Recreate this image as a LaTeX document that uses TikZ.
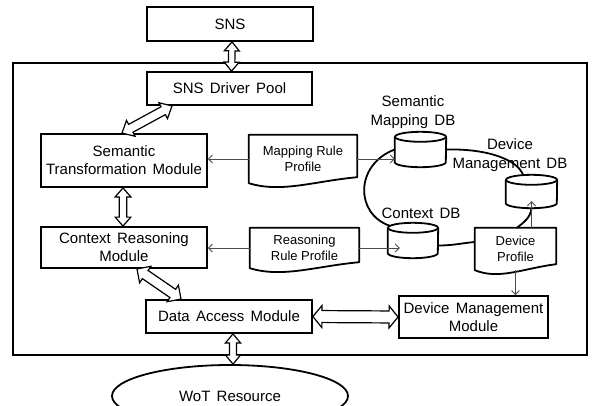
\documentclass[tikz,border=0pt]{standalone}
\usepackage{fontspec}
\setmainfont{Liberation Sans}
\usetikzlibrary{calc,arrows.meta,shapes.geometric}
% #1 shaft half width, #2 head half width, #3 head length, #4 and #5 end points
\newcommand{\fatarrow}[5]{%
  \coordinate (fa1) at ($#4!#3!#5$);
  \coordinate (fa2) at ($#5!#3!#4$);
  \filldraw[fat] #4 -- ($(fa1)!#2!90:#5$) -- ($(fa1)!#1!90:#5$)
    -- ($(fa2)!#1!-90:#4$) -- ($(fa2)!#2!-90:#4$) -- #5
    -- ($(fa2)!#2!90:#4$) -- ($(fa2)!#1!90:#4$)
    -- ($(fa1)!#1!-90:#5$) -- ($(fa1)!#2!-90:#5$) -- cycle;}
\newcommand{\dbcyl}[5]{%
  \node[inner sep=0pt, minimum width=#4pt, minimum height=#5pt] (#1) at (#2,#3) {};
  \draw[dbline] ([yshift=-5pt]#1.north west) -- ([yshift=5pt]#1.south west)
    arc[start angle=180, end angle=360, x radius=#4pt/2, y radius=5pt]
    -- ([yshift=-5pt]#1.north east);
  \draw[dbline] ([yshift=-5pt]#1.north) ellipse [x radius=#4pt/2, y radius=5pt];}
\newcommand{\docshape}[1]{%
  \draw[docline] (#1.north west) -- (#1.south west)
    .. controls ($(#1.south west)!0.3!(#1.south east)+(0,10)$) and ($(#1.south west)!0.6!(#1.south east)+(0,-2)$) ..
    ($(#1.south east)+(0,-6)$) -- (#1.north east) -- cycle;}
\newcommand{\bigtxt}{\fontsize{15}{18}\selectfont\spaceskip=0.42em plus 0.1em minus 0.05em\relax}
\newcommand{\lbltxt}{\fontsize{15}{19}\selectfont\spaceskip=0.42em plus 0.1em minus 0.05em\relax}
\begin{document}
\begin{tikzpicture}[x=1pt,y=-1pt,
  box/.style={draw, line width=1.8pt, inner sep=0pt, align=center, font=\bigtxt},
  docnode/.style={inner sep=0pt, align=center, font=\fontsize{13}{16}\selectfont},
  docline/.style={line width=1.8pt, line join=round},
  dbline/.style={line width=1.8pt},
  link/.style={line width=1.8pt},
  thinarr/.style={draw=black!70, line width=0.8pt, -{Straight Barb[length=4pt,width=8pt]}},
  fat/.style={draw, fill=white, line width=1.2pt, line join=miter},
  lbl/.style={inner sep=0pt, align=center, font=\lbltxt}]
\useasboundingbox (0,0) rectangle (592,405);
\fill[white] (0,0) rectangle (592,405);
% outer frame
\draw[line width=2.2pt] (13,63) rectangle (587,355);
% modules
\node[box, minimum width=166pt, minimum height=34pt] (sns) at (230,24) {SNS};
\node[box, minimum width=165pt, minimum height=33pt] (sdp) at (229.5,88.5) {SNS Driver Pool};
\node[box, minimum width=166pt, minimum height=53pt] (stm) at (124,160.5) {Semantic\\Transformation Module};
\node[box, minimum width=166pt, minimum height=41pt] (crm) at (124,247.5) {Context Reasoning\\Module};
\node[box, minimum width=166pt, minimum height=33pt] (dam) at (229,316.5) {Data Access Module};
\node[box, minimum width=149pt, minimum height=42pt] (dmm) at (473.5,317) {Device Management\\Module};
\node[draw, ellipse, line width=1.8pt, minimum width=236pt, minimum height=62pt, inner sep=0pt,
      font=\bigtxt] (wot) at (230,396) {WoT Resource};
% documents
\node[docnode, minimum width=108pt, minimum height=48pt] (mrp) at (303,159) {Mapping Rule\\Profile};
\node[docnode, minimum width=109pt, minimum height=40pt] (rrp) at (304.5,248) {Reasoning\\Rule Profile};
\node[docnode, minimum width=81pt, minimum height=42pt] (dp) at (515.5,249) {Device\\Profile};
\docshape{mrp}
\docshape{rrp}
\docshape{dp}
% databases
\dbcyl{smdb}{420.5}{149.5}{51}{35}
\dbcyl{dmdb}{531.5}{191.5}{51}{33}
\dbcyl{cdb}{413}{240.5}{50}{35}
\node[lbl] (smdbl) at (413,112) {Semantic\\Mapping DB};
\node[lbl] (dmdbl) at (510,155) {Device\\Management DB};
\node[lbl] (cdbl) at (421,213) {Context DB};
% database links
\draw[link] (smdb.east) .. controls +(44,-1) and +(-5,-14) .. ([xshift=-8.5pt]dmdb.north);
\draw[link] (smdb.west) .. controls +(-40,15) and +(-35,-12) .. ([xshift=2pt,yshift=-3pt]cdb.north west);
\draw[link] ([yshift=-5pt]cdb.east) .. controls +(15,0) and +(-12,1) .. ([yshift=7pt]dp.west);
\draw[link] ([xshift=1.5pt]dp.north) .. controls +(6,-5) and +(-1,10) .. (dmdb.south);
% thin arrows
\draw[thinarr] (mrp.west) -- (mrp.west -| stm.east);
\draw[thinarr] (mrp.east) -- (mrp.east -| smdb.west);
\draw[thinarr] (rrp.west) -- (rrp.west -| crm.east);
\draw[thinarr] (rrp.east) -- ($(rrp.east -| cdb.west)+(12,0)$);
\draw[thinarr] (dp.south) -- (dp.south |- dmm.north);
\draw[thinarr] ([xshift=16pt]dp.north) -- ([yshift=7pt]dmdb.south);
% fat double arrows
\fatarrow{3.2pt}{7.5pt}{9pt}{([xshift=2pt]sns.south)}{([xshift=2pt]sdp.north)}
\fatarrow{4.5pt}{9pt}{10pt}{([xshift=-57.5pt]sdp.south)}{([xshift=-2pt]stm.north)}
\fatarrow{3.8pt}{7.8pt}{9pt}{([xshift=-1pt]stm.south)}{([xshift=-1pt]crm.north)}
\fatarrow{5pt}{10pt}{10pt}{([xshift=13pt]crm.south)}{([xshift=-48pt]dam.north)}
\fatarrow{6pt}{11pt}{9pt}{(dam.east)}{(dmm.west)}
\fatarrow{3.5pt}{7.5pt}{9pt}{([xshift=4pt]dam.south)}{([xshift=3pt]wot.north)}
\end{tikzpicture}
\end{document}
